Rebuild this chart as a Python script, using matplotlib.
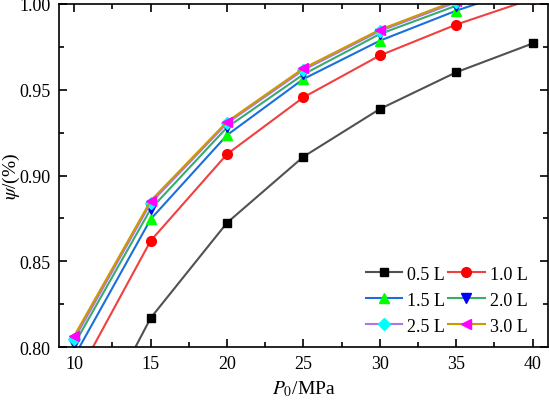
import matplotlib.pyplot as plt
from matplotlib.ticker import MultipleLocator

plt.rcParams["font.family"] = ["Liberation Serif", "DejaVu Serif"]
plt.rcParams["mathtext.fontset"] = "stix"

# Data
pressure = [10, 15, 20, 25, 30, 35, 40]
labels = ["0.5 L", "1.0 L", "1.5 L", "2.0 L", "2.5 L", "3.0 L"]
psi_05 = [0.732, 0.817, 0.8725, 0.911, 0.9388, 0.9602, 0.977]
psi_10 = [0.780, 0.862, 0.9125, 0.9456, 0.970, 0.988, 1.003]
psi_15 = [0.7946, 0.8746, 0.9236, 0.9563, 0.9786, 0.9961, 1.011]
psi_20 = [0.8017, 0.8805, 0.9281, 0.9590, 0.9825, 0.999, 1.013]
psi_25 = [0.8047, 0.8840, 0.9305, 0.9615, 0.9842, 1.001, 1.015]
psi_30 = [0.8066, 0.8853, 0.9314, 0.9625, 0.9850, 1.002, 1.017]

line_colors = ["#515151", "#F14040", "#1A6FDF", "#37AD6B", "#B177DE", "#CC9900"]
marker_colors = ["#000000", "#FF0000", "#00FF00", "#0000FF", "#00FFFF", "#FF00FF"]
markers = ["s", "o", "^", "v", "D", "<"]
msizes = [6, 7, 7, 7, 6, 7]

fig = plt.figure(figsize=(5.49, 4.02), dpi=100)
ax = fig.add_axes([0.1075, 0.134, 0.8905, 0.8536])

series = [psi_05, psi_10, psi_15, psi_20, psi_25, psi_30]
handles = []
for i, vals in enumerate(series):
    h, = ax.plot(pressure, vals, color=line_colors[i], lw=1.5,
                 marker=markers[i], ms=msizes[i], mfc=marker_colors[i],
                 mec=marker_colors[i], label=labels[i])
    handles.append(h)

ax.set_xlim(9, 41)
ax.set_ylim(0.80, 1.00)
ax.xaxis.set_major_locator(MultipleLocator(5))
ax.xaxis.set_minor_locator(MultipleLocator(2.5))
ax.yaxis.set_major_locator(MultipleLocator(0.05))
ax.yaxis.set_minor_locator(MultipleLocator(0.025))
ax.yaxis.set_major_formatter(plt.FormatStrFormatter("%.2f"))
ax.tick_params(which="both", direction="in", top=True, right=True,
               labelsize=13, width=1.2)
ax.tick_params(which="major", length=6, pad=6)
ax.tick_params(which="minor", length=3.5)
for sp in ax.spines.values():
    sp.set_linewidth(1.2)

ax.set_xlabel("$P_0$/MPa", fontsize=14)
ax.set_ylabel(r"$\psi$/(%)", fontsize=14)
ax.yaxis.set_label_coords(-0.075, 0.5)

order = [0, 2, 4, 1, 3, 5]
ax.legend([handles[i] for i in order], [labels[i] for i in order], ncol=2,
          frameon=False, fontsize=13, loc="lower right",
          bbox_to_anchor=(0.973, 0.015), borderaxespad=0,
          handlelength=2.0, columnspacing=0.2,
          handletextpad=0.28, labelspacing=0.5)

fig.savefig("out.png", dpi=100)
